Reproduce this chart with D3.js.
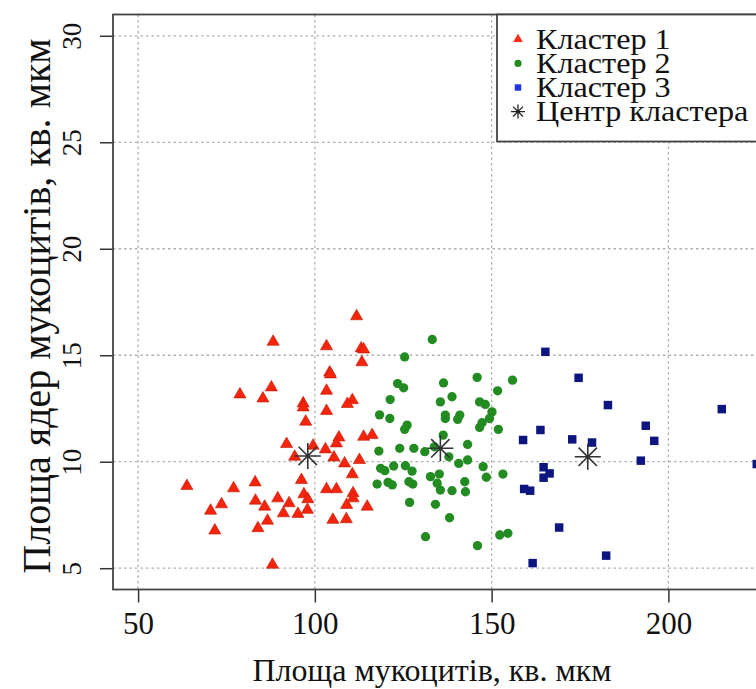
<!DOCTYPE html>
<html><head><meta charset="utf-8">
<script src="https://cdn.jsdelivr.net/npm/d3@7/dist/d3.min.js"></script>
<style>html,body{margin:0;padding:0;background:#fff;}svg{display:block;}</style>
</head><body>
<script>
const cluster1X=[111.8,88.2,103.3,113.1,113.8,113.3,104.2,104.4,87.7,78.8,85.3,103.3,110.6,109.2,96.7,96.7,103.3,97.4,113.8,116.2,106.8,106.1,92.0,99.5,103.0,94.3,105.4,108.4,112.6,110.6,63.8,77.0,83.1,96.2,103.3,106.1,110.8,110.8,96.9,98.0,83.2,89.5,92.7,85.8,73.6,70.5,91.1,95.2,97.9,109.0,114.8,86.6,83.9,71.7,105.1,108.9,88.0];
const cluster1Y=[16.83,15.63,15.42,15.32,15.27,14.67,14.19,14.1,13.49,13.16,12.97,13.33,12.89,12.71,12.74,12.55,12.38,11.88,11.17,11.25,11.14,10.86,10.83,10.75,10.58,10.23,10.2,9.92,10.08,9.41,8.86,8.75,9.03,9.14,8.71,8.71,8.52,8.28,8.47,8.24,8.17,8.28,8.05,7.89,8.0,7.7,7.58,7.55,7.74,7.97,7.89,7.23,6.88,6.77,7.27,7.3,5.16];
const cluster2X=[133.2,125.4,123.4,125.1,136.4,145.9,155.9,151.7,121.3,138.8,135.5,146.6,148.2,118.3,121.2,136.9,136.9,141.0,140.4,150.1,149.4,147.3,146.6,126.1,125.4,151.9,136.3,118.1,124.0,128.0,131.1,133.8,137.9,143.2,140.7,143.2,118.6,119.8,122.3,125.6,127.5,147.6,148.5,153.2,132.7,135.2,134.6,135.5,117.6,120.7,121.9,126.6,127.7,142.4,142.6,138.8,126.8,134.1,138.1,131.3,146.0,152.3,154.6];
const cluster2Y=[15.74,14.92,13.67,13.47,13.7,13.96,13.83,13.33,12.92,13.05,12.81,12.81,12.69,12.2,12.03,12.19,12.03,12.19,11.99,12.34,12.03,11.83,11.61,11.72,11.52,11.52,11.25,10.5,10.63,10.63,10.47,10.7,10.23,10.81,9.92,10.08,9.69,9.58,9.8,9.81,9.56,9.77,9.27,9.42,9.3,9.42,8.99,8.67,8.95,9.03,8.91,9.06,8.95,9.06,8.59,8.64,8.09,8.0,7.37,6.48,6.06,6.56,6.64];
const cluster3X=[165.2,174.6,182.9,215.1,193.6,163.8,158.9,172.8,178.4,196.0,192.2,225.0,164.7,166.4,164.7,159.2,160.9,169.1,182.4,161.6];
const cluster3Y=[15.16,13.94,12.66,12.47,11.69,11.49,11.02,11.05,10.9,10.98,10.05,9.89,9.74,9.45,9.25,8.72,8.64,6.91,5.59,5.24];
const centerX=[98.0,135.5,177.2];
const centerY=[10.27,10.63,10.23];
const xTicks=[50,100,150,200];
const yTicks=[5,10,15,20,25,30];
const legendLabels=["Кластер 1","Кластер 2","Кластер 3","Центр кластера"];
const xTitle="Площа мукоцитів, кв. мкм";
const yTitle="Площа ядер мукоцитів, кв. мкм";

const W=756,H=689;
const L=113,T=14.5,B=589.5,R=790;
const font="'Liberation Serif','DejaVu Serif',serif";
const svg=d3.select("body").append("svg").attr("width",W).attr("height",H);
const x=d3.scaleLinear().domain([42.9,234.4]).range([L,R]);
const y=d3.scaleLinear().domain([4,31]).range([B,T]);

const gridC="#b0b0b0";
const grid=svg.append("g");
grid.selectAll(".gx").data(xTicks).join("line")
  .attr("x1",d=>x(d)).attr("x2",d=>x(d)).attr("y1",T).attr("y2",B)
  .attr("stroke",gridC).attr("stroke-width",1.3).attr("stroke-dasharray","2.5,3");
grid.selectAll(".gy").data(yTicks).join("line")
  .attr("y1",d=>y(d)).attr("y2",d=>y(d)).attr("x1",L).attr("x2",R)
  .attr("stroke",gridC).attr("stroke-width",1.3).attr("stroke-dasharray","2.5,3");

// axes
const xAxis=svg.append("g").attr("transform",`translate(0,${B})`)
  .call(d3.axisBottom(x).tickValues(xTicks).tickSize(13).tickPadding(9).tickFormat(d3.format("d")));
xAxis.select(".domain").remove();
xAxis.selectAll("line").attr("stroke","#333").attr("stroke-width",1.5);
xAxis.selectAll("text").attr("font-family",font).attr("font-size",31).attr("fill","#111");

const yAxis=svg.append("g").attr("transform",`translate(${L},0)`)
  .call(d3.axisLeft(y).tickValues(yTicks).tickSize(13).tickFormat(d3.format("d")));
yAxis.select(".domain").remove();
yAxis.selectAll("line").attr("stroke","#333").attr("stroke-width",1.5);
yAxis.selectAll("text").attr("font-family",font).attr("font-size",27).attr("fill","#111")
  .attr("x",null).attr("dy",null).attr("y",null)
  .attr("text-anchor","middle")
  .attr("transform","translate(-32,0) rotate(-90)");

// points
const sym=(type,size)=>d3.symbol().type(type).size(size)();
const p1=d3.zip(cluster1X,cluster1Y), p2=d3.zip(cluster2X,cluster2Y), p3=d3.zip(cluster3X,cluster3Y);
const red="#f5240c", green="#228b22", navy="#0d1680";
svg.append("g").selectAll("path").data(p2).join("path")
  .attr("d",sym(d3.symbolCircle,68)).attr("fill",green)
  .attr("transform",d=>`translate(${x(d[0])},${y(d[1])})`);
svg.append("g").selectAll("path").data(p1).join("path")
  .attr("d",sym(d3.symbolTriangle,64)).attr("fill",red).attr("stroke","#c01a08").attr("stroke-width",0.6)
  .attr("transform",d=>`translate(${x(d[0])},${y(d[1])})`);
svg.append("g").selectAll("path").data(p3).join("path")
  .attr("d",sym(d3.symbolSquare,72)).attr("fill",navy)
  .attr("transform",d=>`translate(${x(d[0])},${y(d[1])})`);

function star(r){
  let s="";
  for(let i=0;i<4;i++){const a=i*Math.PI/4;const dx=r*Math.cos(a),dy=r*Math.sin(a);
    s+=`M${-dx},${-dy}L${dx},${dy}`;}
  return s;
}
svg.append("g").selectAll("path").data(d3.zip(centerX,centerY)).join("path")
  .attr("d",star(13)).attr("stroke","#333").attr("stroke-width",1.6).attr("fill","none")
  .attr("transform",d=>`translate(${x(d[0])},${y(d[1])})`);

// frame
svg.append("rect").attr("x",L).attr("y",T).attr("width",R-L).attr("height",B-T)
  .attr("fill","none").attr("stroke","#444").attr("stroke-width",1.8);

// legend
const lg=svg.append("g");
lg.append("rect").attr("x",497).attr("y",T).attr("width",300).attr("height",127)
  .attr("fill","#fff").attr("stroke","#444").attr("stroke-width",1.8);
const rowY=i=>39.3+i*24.1;
const legSyms=[
  {d:sym(d3.symbolTriangle,40),fill:"#ff2a1a"},
  {d:sym(d3.symbolCircle,40),fill:green},
  {d:sym(d3.symbolSquare,42),fill:"#2035e0"},
  {d:star(7),fill:"none",stroke:"#222"}
];
legSyms.forEach((s,i)=>{
  lg.append("path").attr("d",s.d).attr("fill",s.fill)
    .attr("stroke",s.stroke||"none").attr("stroke-width",1.3)
    .attr("transform",`translate(518,${rowY(i)})`);
});
lg.selectAll("text").data(legendLabels).join("text")
  .attr("transform",(d,i)=>`translate(536,${rowY(i)+9.7}) scale(1.13,1)`)
  .attr("font-family",font).attr("font-size",28.5).attr("fill","#111").text(d=>d);

// titles
svg.append("text").attr("x",432).attr("y",681).attr("text-anchor","middle")
  .attr("font-family",font).attr("font-size",32).attr("fill","#111").text(xTitle);
svg.append("text").attr("transform",`translate(50,306) rotate(-90)`).attr("text-anchor","middle")
  .attr("font-family",font).attr("font-size",40).attr("fill","#111").text(yTitle);
</script>
</body></html>
